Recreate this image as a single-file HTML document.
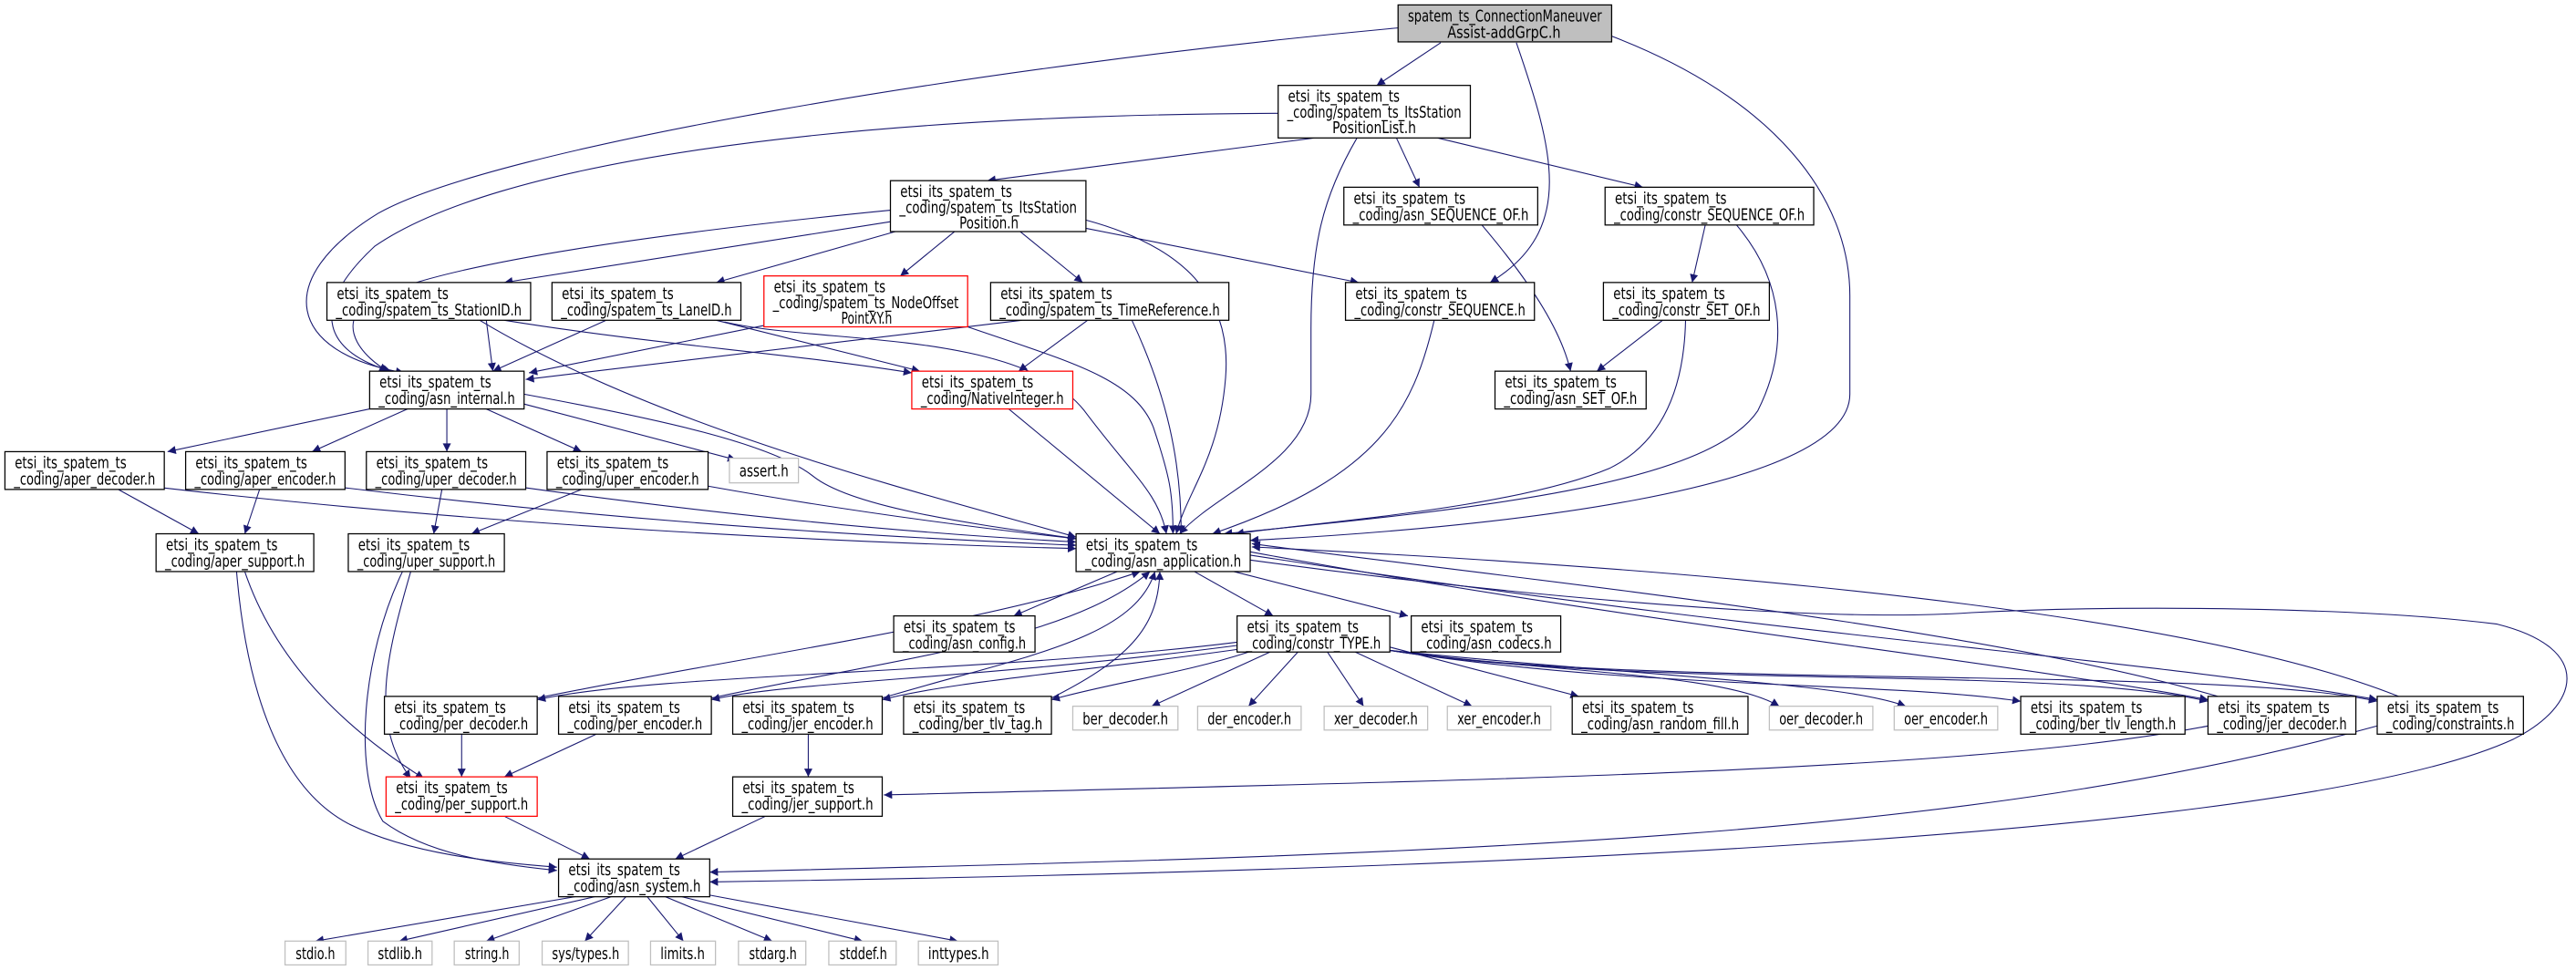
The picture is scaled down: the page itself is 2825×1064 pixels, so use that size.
<!DOCTYPE html>
<html><head><meta charset="utf-8"><style>
html,body{margin:0;padding:0;background:#fff;width:2825px;height:1064px;overflow:hidden}
svg{display:block}
text{font-family:"DejaVu Sans","Liberation Sans",sans-serif;font-size:10px;fill:#000}
.b{fill:#fff;stroke:#000;stroke-width:0.7}
.r{fill:#fff;stroke:#ff0000;stroke-width:0.7}
.g{fill:#fff;stroke:#bfbfbf;stroke-width:0.7}
.e path{fill:none;stroke:#191970;stroke-width:0.6;marker-end:url(#a)}
</style></head><body>
<svg width="2825" height="1064" viewBox="0 0 1568 590.6" preserveAspectRatio="none" xmlns="http://www.w3.org/2000/svg">
<defs><marker id="a" viewBox="0 0 10 10" refX="10" refY="5" markerWidth="7" markerHeight="5" markerUnits="userSpaceOnUse" orient="auto"><path d="M0,0L10,5L0,10z" fill="#191970"/></marker></defs>
<g class="e">
<path d="M877,26L838,52"/>
<path d="M851,17C600,40 300,90 230,130C165,170 175,215 246,227"/>
<path d="M923,26C945,90 960,140 907,172"/>
<path d="M981,22C1080,60 1126,120 1126,180L1126,240C1126,300 900,322 761,329"/>
<path d="M800,84L601,110"/>
<path d="M778,69C500,70 300,100 228,150C185,190 200,215 238,226"/>
<path d="M826,84C805,120 798,150 798,200L798,240C798,280 740,300 718,325"/>
<path d="M850,84L864,114"/>
<path d="M875,84L1000,114"/>
<path d="M542,128C420,140 260,160 222,185C205,200 222,218 236,226"/>
<path d="M542,135L307,172"/>
<path d="M545,141L436,172"/>
<path d="M581,141L548,168"/>
<path d="M621,141L659,172"/>
<path d="M661,139L827,172"/>
<path d="M661,134C720,150 750,180 746,230C742,280 722,300 716,325"/>
<path d="M296,195L300,226"/>
<path d="M307,195C400,210 480,215 555,227"/>
<path d="M292,195C400,260 560,300 655,327"/>
<path d="M369,195L300,226"/>
<path d="M436,195L560,226"/>
<path d="M441,196C500,210 620,200 660,250C690,290 705,300 710,325"/>
<path d="M466,198L322,227"/>
<path d="M589,199C650,220 690,230 702,260C712,290 714,300 714,325"/>
<path d="M622,195L320,231"/>
<path d="M662,195L620,226"/>
<path d="M689,195C710,240 719,280 719,325"/>
<path d="M902,137C930,170 950,200 956,226"/>
<path d="M1038,137L1030,172"/>
<path d="M1057,137C1085,170 1090,210 1070,250C1040,295 900,310 745,325"/>
<path d="M873,195C860,250 840,290 738,325"/>
<path d="M1012,195L972,226"/>
<path d="M1026,195C1025,240 1010,270 980,285C920,310 800,318 752,325"/>
<path d="M614,249L706,325"/>
<path d="M225,249L102,275"/>
<path d="M248,249L190,275"/>
<path d="M272,249L272,275"/>
<path d="M296,249L354,275"/>
<path d="M319,246L448,280"/>
<path d="M319,240C400,255 470,270 495,290C520,310 600,320 655,328"/>
<path d="M72,298L121,325"/>
<path d="M99,297C300,320 500,330 655,334"/>
<path d="M158,298L149,325"/>
<path d="M210,297C400,320 560,328 655,332"/>
<path d="M269,298L264,325"/>
<path d="M320,297C450,315 560,325 655,330"/>
<path d="M354,298L287,325"/>
<path d="M431,296C520,312 600,322 655,328"/>
<path d="M149,348C170,410 220,450 258,474"/>
<path d="M144,348C150,420 170,480 213,502C250,520 300,525 339,528"/>
<path d="M250,348C235,400 225,440 250,474"/>
<path d="M245,348C220,400 215,470 233,500C260,520 300,526 339,530"/>
<path d="M680,348L617,375"/>
<path d="M727,348L775,375"/>
<path d="M751,348L857,375"/>
<path d="M761,341C900,360 1100,380 1200,373C1300,368 1440,370 1520,380C1580,395 1570,430 1530,450C1400,510 900,530 432,537"/>
<path d="M761,336C1000,380 1200,400 1344,426"/>
<path d="M761,338C1100,390 1300,400 1447,426"/>
<path d="M1350,424C1200,380 900,350 762,331"/>
<path d="M1460,424C1300,360 900,340 762,333"/>
<path d="M753,391C600,410 400,410 327,426"/>
<path d="M753,393C600,413 480,415 433,426"/>
<path d="M756,395C650,410 580,415 537,426"/>
<path d="M760,397C720,410 680,415 640,426"/>
<path d="M773,397L701,430"/>
<path d="M790,397L760,430"/>
<path d="M808,397L830,430"/>
<path d="M825,397L896,430"/>
<path d="M846,394L961,424"/>
<path d="M846,396C950,410 1050,410 1083,430"/>
<path d="M846,396C1000,412 1120,415 1160,430"/>
<path d="M846,396C1000,420 1150,415 1230,427"/>
<path d="M846,396C1000,420 1250,405 1344,427"/>
<path d="M846,396C1000,420 1350,405 1447,427"/>
<path d="M327,425C450,400 600,380 694,348"/>
<path d="M433,425C550,400 650,390 700,348"/>
<path d="M537,425C620,400 690,390 703,348"/>
<path d="M640,425C690,400 705,380 706,348"/>
<path d="M281,447L281,473"/>
<path d="M363,447L307,473"/>
<path d="M492,447L492,473"/>
<path d="M1344,442C1200,470 900,475 538,484"/>
<path d="M1447,442C1200,510 900,520 432,531"/>
<path d="M305,496L359,523"/>
<path d="M468,496L411,523"/>
<path d="M350,546L192,573"/>
<path d="M362,546L243,573"/>
<path d="M372,546L296,573"/>
<path d="M381,546L356,573"/>
<path d="M394,546L416,573"/>
<path d="M405,546L470,573"/>
<path d="M415,546L525,573"/>
<path d="M432,545L583,573"/>
</g>
<rect x="851" y="3" width="130" height="22.5" fill="#bfbfbf" stroke="#000" stroke-width="0.7"/>
<text x="857" y="13" textLength="118" lengthAdjust="spacingAndGlyphs">spatem_ts_ConnectionManeuver</text>
<text x="881" y="23" textLength="69" lengthAdjust="spacingAndGlyphs">Assist-addGrpC.h</text>

<rect class="b" x="778" y="52" width="117" height="32"/>
<text x="784" y="62" textLength="68" lengthAdjust="spacingAndGlyphs">etsi_its_spatem_ts</text>
<text x="783.5" y="71.5" textLength="106" lengthAdjust="spacingAndGlyphs">_coding/spatem_ts_ItsStation</text>
<text x="811" y="81" textLength="51" lengthAdjust="spacingAndGlyphs">PositionList.h</text>

<rect class="b" x="542" y="110" width="119" height="31"/>
<text x="548" y="120" textLength="68" lengthAdjust="spacingAndGlyphs">etsi_its_spatem_ts</text>
<text x="547.5" y="129.5" textLength="108" lengthAdjust="spacingAndGlyphs">_coding/spatem_ts_ItsStation</text>
<text x="584" y="139" textLength="36" lengthAdjust="spacingAndGlyphs">Position.h</text>

<rect class="r" x="465" y="168" width="124" height="31"/>
<text x="471" y="178" textLength="68" lengthAdjust="spacingAndGlyphs">etsi_its_spatem_ts</text>
<text x="470.5" y="187.5" textLength="113" lengthAdjust="spacingAndGlyphs">_coding/spatem_ts_NodeOffset</text>
<text x="512" y="197" textLength="31" lengthAdjust="spacingAndGlyphs">PointXY.h</text>

<rect class="b" x="199" y="172" width="124" height="23"/><text x="205" y="182" textLength="68" lengthAdjust="spacingAndGlyphs">etsi_its_spatem_ts</text><text x="204.5" y="192" textLength="113" lengthAdjust="spacingAndGlyphs">_coding/spatem_ts_StationID.h</text>
<rect class="b" x="336" y="172" width="115" height="23"/><text x="342" y="182" textLength="68" lengthAdjust="spacingAndGlyphs">etsi_its_spatem_ts</text><text x="341.5" y="192" textLength="104" lengthAdjust="spacingAndGlyphs">_coding/spatem_ts_LaneID.h</text>
<rect class="b" x="603" y="172" width="145" height="23"/><text x="609" y="182" textLength="68" lengthAdjust="spacingAndGlyphs">etsi_its_spatem_ts</text><text x="608.5" y="192" textLength="134" lengthAdjust="spacingAndGlyphs">_coding/spatem_ts_TimeReference.h</text>
<rect class="b" x="818" y="114" width="118" height="23"/><text x="824" y="124" textLength="68" lengthAdjust="spacingAndGlyphs">etsi_its_spatem_ts</text><text x="823.5" y="134" textLength="107" lengthAdjust="spacingAndGlyphs">_coding/asn_SEQUENCE_OF.h</text>
<rect class="b" x="977" y="114" width="127" height="23"/><text x="983" y="124" textLength="68" lengthAdjust="spacingAndGlyphs">etsi_its_spatem_ts</text><text x="982.5" y="134" textLength="116" lengthAdjust="spacingAndGlyphs">_coding/constr_SEQUENCE_OF.h</text>
<rect class="b" x="819" y="172" width="115" height="23"/><text x="825" y="182" textLength="68" lengthAdjust="spacingAndGlyphs">etsi_its_spatem_ts</text><text x="824.5" y="192" textLength="104" lengthAdjust="spacingAndGlyphs">_coding/constr_SEQUENCE.h</text>
<rect class="b" x="976" y="172" width="101" height="23"/><text x="982" y="182" textLength="68" lengthAdjust="spacingAndGlyphs">etsi_its_spatem_ts</text><text x="981.5" y="192" textLength="90" lengthAdjust="spacingAndGlyphs">_coding/constr_SET_OF.h</text>
<rect class="b" x="910" y="226" width="92" height="23"/><text x="916" y="236" textLength="68" lengthAdjust="spacingAndGlyphs">etsi_its_spatem_ts</text><text x="915.5" y="246" textLength="81" lengthAdjust="spacingAndGlyphs">_coding/asn_SET_OF.h</text>
<rect class="b" x="225" y="226" width="94" height="23"/><text x="231" y="236" textLength="68" lengthAdjust="spacingAndGlyphs">etsi_its_spatem_ts</text><text x="230.5" y="246" textLength="83" lengthAdjust="spacingAndGlyphs">_coding/asn_internal.h</text>
<rect class="r" x="555" y="226" width="98" height="23"/><text x="561" y="236" textLength="68" lengthAdjust="spacingAndGlyphs">etsi_its_spatem_ts</text><text x="560.5" y="246" textLength="87" lengthAdjust="spacingAndGlyphs">_coding/NativeInteger.h</text>
<rect class="b" x="3" y="275" width="97" height="23"/><text x="9" y="285" textLength="68" lengthAdjust="spacingAndGlyphs">etsi_its_spatem_ts</text><text x="8.5" y="295" textLength="86" lengthAdjust="spacingAndGlyphs">_coding/aper_decoder.h</text>
<rect class="b" x="113" y="275" width="97" height="23"/><text x="119" y="285" textLength="68" lengthAdjust="spacingAndGlyphs">etsi_its_spatem_ts</text><text x="118.5" y="295" textLength="86" lengthAdjust="spacingAndGlyphs">_coding/aper_encoder.h</text>
<rect class="b" x="223" y="275" width="97" height="23"/><text x="229" y="285" textLength="68" lengthAdjust="spacingAndGlyphs">etsi_its_spatem_ts</text><text x="228.5" y="295" textLength="86" lengthAdjust="spacingAndGlyphs">_coding/uper_decoder.h</text>
<rect class="b" x="333" y="275" width="98" height="23"/><text x="339" y="285" textLength="68" lengthAdjust="spacingAndGlyphs">etsi_its_spatem_ts</text><text x="338.5" y="295" textLength="87" lengthAdjust="spacingAndGlyphs">_coding/uper_encoder.h</text>
<rect class="b" x="95" y="325" width="96" height="23"/><text x="101" y="335" textLength="68" lengthAdjust="spacingAndGlyphs">etsi_its_spatem_ts</text><text x="100.5" y="345" textLength="85" lengthAdjust="spacingAndGlyphs">_coding/aper_support.h</text>
<rect class="b" x="212" y="325" width="95" height="23"/><text x="218" y="335" textLength="68" lengthAdjust="spacingAndGlyphs">etsi_its_spatem_ts</text><text x="217.5" y="345" textLength="84" lengthAdjust="spacingAndGlyphs">_coding/uper_support.h</text>
<rect class="b" x="655" y="325" width="106" height="23"/><text x="661" y="335" textLength="68" lengthAdjust="spacingAndGlyphs">etsi_its_spatem_ts</text><text x="660.5" y="345" textLength="95" lengthAdjust="spacingAndGlyphs">_coding/asn_application.h</text>
<rect class="b" x="544" y="375" width="86" height="22"/><text x="550" y="385" textLength="68" lengthAdjust="spacingAndGlyphs">etsi_its_spatem_ts</text><text x="549.5" y="395" textLength="75" lengthAdjust="spacingAndGlyphs">_coding/asn_config.h</text>
<rect class="b" x="753" y="375" width="93" height="22"/><text x="759" y="385" textLength="68" lengthAdjust="spacingAndGlyphs">etsi_its_spatem_ts</text><text x="758.5" y="395" textLength="82" lengthAdjust="spacingAndGlyphs">_coding/constr_TYPE.h</text>
<rect class="b" x="859" y="375" width="91" height="22"/><text x="865" y="385" textLength="68" lengthAdjust="spacingAndGlyphs">etsi_its_spatem_ts</text><text x="864.5" y="395" textLength="80" lengthAdjust="spacingAndGlyphs">_coding/asn_codecs.h</text>
<rect class="b" x="234" y="424" width="93" height="23"/><text x="240" y="434" textLength="68" lengthAdjust="spacingAndGlyphs">etsi_its_spatem_ts</text><text x="239.5" y="444" textLength="82" lengthAdjust="spacingAndGlyphs">_coding/per_decoder.h</text>
<rect class="b" x="340" y="424" width="93" height="23"/><text x="346" y="434" textLength="68" lengthAdjust="spacingAndGlyphs">etsi_its_spatem_ts</text><text x="345.5" y="444" textLength="82" lengthAdjust="spacingAndGlyphs">_coding/per_encoder.h</text>
<rect class="b" x="446" y="424" width="91" height="23"/><text x="452" y="434" textLength="68" lengthAdjust="spacingAndGlyphs">etsi_its_spatem_ts</text><text x="451.5" y="444" textLength="80" lengthAdjust="spacingAndGlyphs">_coding/jer_encoder.h</text>
<rect class="b" x="550" y="424" width="90" height="23"/><text x="556" y="434" textLength="68" lengthAdjust="spacingAndGlyphs">etsi_its_spatem_ts</text><text x="555.5" y="444" textLength="79" lengthAdjust="spacingAndGlyphs">_coding/ber_tlv_tag.h</text>
<rect class="b" x="957" y="424" width="107" height="23"/><text x="963" y="434" textLength="68" lengthAdjust="spacingAndGlyphs">etsi_its_spatem_ts</text><text x="962.5" y="444" textLength="96" lengthAdjust="spacingAndGlyphs">_coding/asn_random_fill.h</text>
<rect class="b" x="1230" y="424" width="100" height="23"/><text x="1236" y="434" textLength="68" lengthAdjust="spacingAndGlyphs">etsi_its_spatem_ts</text><text x="1235.5" y="444" textLength="89" lengthAdjust="spacingAndGlyphs">_coding/ber_tlv_length.h</text>
<rect class="b" x="1344" y="424" width="90" height="23"/><text x="1350" y="434" textLength="68" lengthAdjust="spacingAndGlyphs">etsi_its_spatem_ts</text><text x="1349.5" y="444" textLength="79" lengthAdjust="spacingAndGlyphs">_coding/jer_decoder.h</text>
<rect class="b" x="1447" y="424" width="89" height="23"/><text x="1453" y="434" textLength="68" lengthAdjust="spacingAndGlyphs">etsi_its_spatem_ts</text><text x="1452.5" y="444" textLength="78" lengthAdjust="spacingAndGlyphs">_coding/constraints.h</text>
<rect class="r" x="235" y="473" width="92" height="24"/><text x="241" y="483" textLength="68" lengthAdjust="spacingAndGlyphs">etsi_its_spatem_ts</text><text x="240.5" y="493" textLength="81" lengthAdjust="spacingAndGlyphs">_coding/per_support.h</text>
<rect class="b" x="446" y="473" width="91" height="24"/><text x="452" y="483" textLength="68" lengthAdjust="spacingAndGlyphs">etsi_its_spatem_ts</text><text x="451.5" y="493" textLength="80" lengthAdjust="spacingAndGlyphs">_coding/jer_support.h</text>
<rect class="b" x="340" y="523" width="92" height="23"/><text x="346" y="533" textLength="68" lengthAdjust="spacingAndGlyphs">etsi_its_spatem_ts</text><text x="345.5" y="543" textLength="81" lengthAdjust="spacingAndGlyphs">_coding/asn_system.h</text>

<rect class="g" x="444" y="279" width="42" height="15"/><text x="450" y="290" textLength="30" lengthAdjust="spacingAndGlyphs">assert.h</text>
<rect class="g" x="653" y="430" width="64" height="14.5"/><text x="659" y="441" textLength="52" lengthAdjust="spacingAndGlyphs">ber_decoder.h</text>
<rect class="g" x="729" y="430" width="63" height="14.5"/><text x="735" y="441" textLength="51" lengthAdjust="spacingAndGlyphs">der_encoder.h</text>
<rect class="g" x="806" y="430" width="63" height="14.5"/><text x="812" y="441" textLength="51" lengthAdjust="spacingAndGlyphs">xer_decoder.h</text>
<rect class="g" x="881" y="430" width="63" height="14.5"/><text x="887" y="441" textLength="51" lengthAdjust="spacingAndGlyphs">xer_encoder.h</text>
<rect class="g" x="1077" y="430" width="63" height="14.5"/><text x="1083" y="441" textLength="51" lengthAdjust="spacingAndGlyphs">oer_decoder.h</text>
<rect class="g" x="1153" y="430" width="63" height="14.5"/><text x="1159" y="441" textLength="51" lengthAdjust="spacingAndGlyphs">oer_encoder.h</text>
<rect class="g" x="173.5" y="573" width="37" height="14.5"/><text x="180" y="584" textLength="24" lengthAdjust="spacingAndGlyphs">stdio.h</text>
<rect class="g" x="224" y="573" width="39" height="14.5"/><text x="230" y="584" textLength="27" lengthAdjust="spacingAndGlyphs">stdlib.h</text>
<rect class="g" x="276.5" y="573" width="39.5" height="14.5"/><text x="283" y="584" textLength="27" lengthAdjust="spacingAndGlyphs">string.h</text>
<rect class="g" x="330" y="573" width="52.5" height="14.5"/><text x="336" y="584" textLength="41" lengthAdjust="spacingAndGlyphs">sys/types.h</text>
<rect class="g" x="396" y="573" width="39.5" height="14.5"/><text x="402" y="584" textLength="27" lengthAdjust="spacingAndGlyphs">limits.h</text>
<rect class="g" x="449.5" y="573" width="41" height="14.5"/><text x="456" y="584" textLength="29" lengthAdjust="spacingAndGlyphs">stdarg.h</text>
<rect class="g" x="504.5" y="573" width="41" height="14.5"/><text x="511" y="584" textLength="29" lengthAdjust="spacingAndGlyphs">stddef.h</text>
<rect class="g" x="559" y="573" width="48.5" height="14.5"/><text x="565" y="584" textLength="37" lengthAdjust="spacingAndGlyphs">inttypes.h</text>
</svg>
</body></html>
